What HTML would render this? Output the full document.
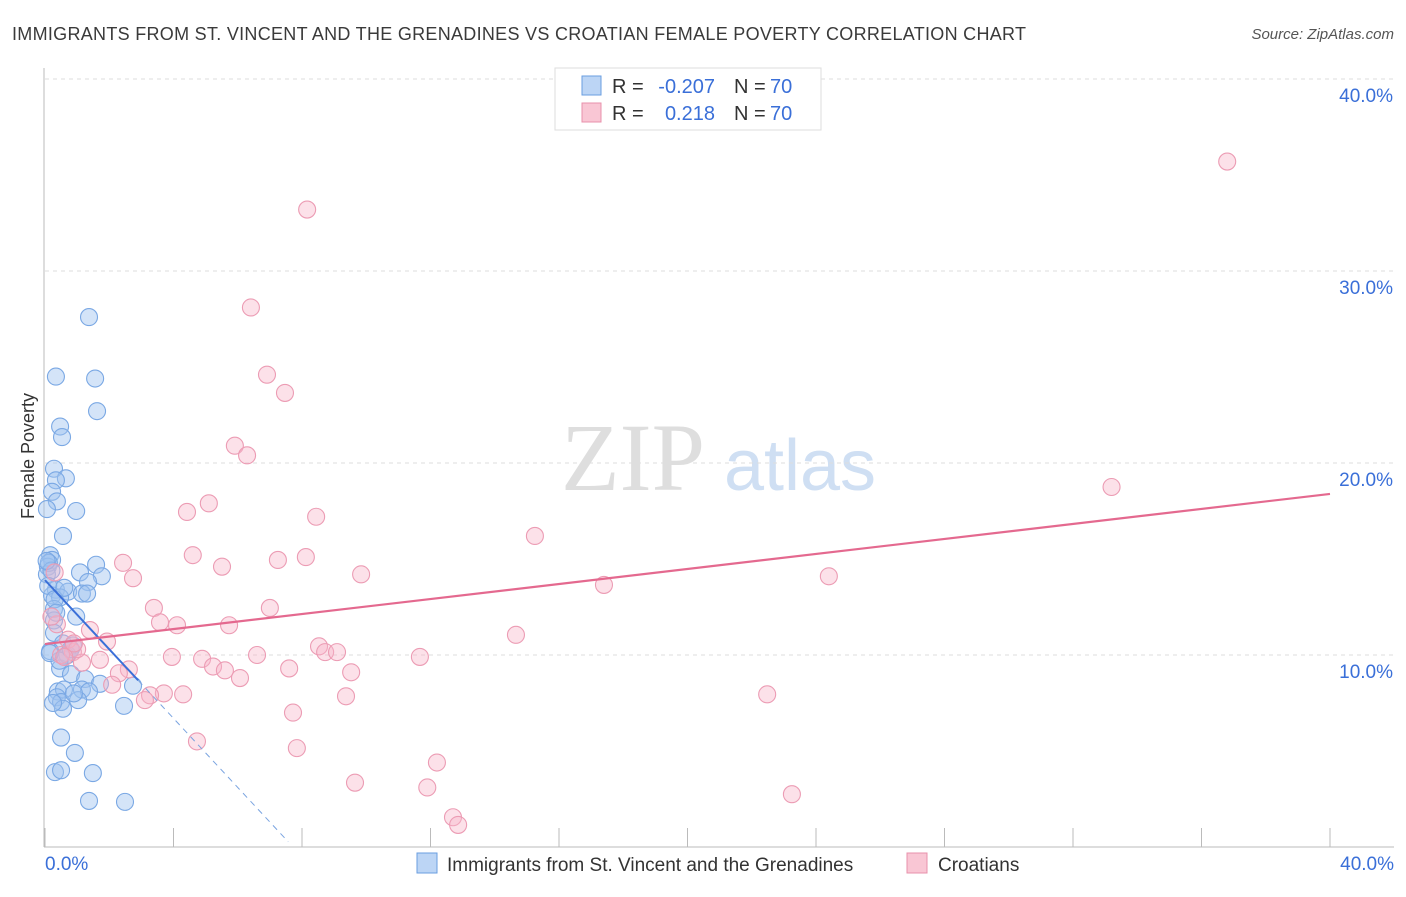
<!DOCTYPE html>
<html><head><meta charset="utf-8"><style>
body{margin:0;background:#fff;font-family:"Liberation Sans",sans-serif;}
</style></head><body>
<svg id="c" width="1406" height="892" viewBox="0 0 1406 892" xmlns="http://www.w3.org/2000/svg">
<text x="12" y="40" font-size="18" textLength="1014" fill="#3a3a3a">IMMIGRANTS FROM ST. VINCENT AND THE GRENADINES VS CROATIAN FEMALE POVERTY CORRELATION CHART</text>
<text x="1394" y="39" font-size="15" font-style="italic" fill="#555" text-anchor="end">Source: ZipAtlas.com</text>
<text x="0" y="0" transform="translate(34,456) rotate(-90)" font-size="18" fill="#333" text-anchor="middle">Female Poverty</text>
<g><text x="633" y="490" font-size="96" font-family="Liberation Serif,serif" fill="#dedede" text-anchor="middle">ZIP</text><text x="800" y="490" font-size="72" fill="#cfdff3" text-anchor="middle">atlas</text></g>
<g id="grid"></g><g id="pts"></g><g id="trend"></g>
<g>
<rect x="555" y="68" width="266" height="62" fill="#fff" stroke="#ddd"/>
<rect x="582" y="76" width="19" height="19" fill="#bcd5f5" stroke="#6a9ee0"/>
<rect x="582" y="103" width="19" height="19" fill="#f9c6d4" stroke="#e890ab"/>
<text x="612" y="93" font-size="20" fill="#333">R =</text>
<text x="715" y="93" font-size="20" fill="#3a6fd8" text-anchor="end">-0.207</text>
<text x="734" y="93" font-size="20" fill="#333">N =</text>
<text x="770" y="93" font-size="20" fill="#3a6fd8">70</text>
<text x="612" y="120" font-size="20" fill="#333">R =</text>
<text x="715" y="120" font-size="20" fill="#3a6fd8" text-anchor="end">0.218</text>
<text x="734" y="120" font-size="20" fill="#333">N =</text>
<text x="770" y="120" font-size="20" fill="#3a6fd8">70</text>
</g>
<g>
<rect x="417" y="853" width="20" height="20" fill="#bcd5f5" stroke="#6a9ee0"/>
<text x="447" y="871" font-size="19" fill="#333">Immigrants from St. Vincent and the Grenadines</text>
<rect x="907" y="853" width="20" height="20" fill="#f9c6d4" stroke="#e890ab"/>
<text x="938" y="871" font-size="19" fill="#333">Croatians</text>
</g>
</svg>
<script>
const yTicks=[10,20,30,40];
const yTickLabels=["10.0%","20.0%","30.0%","40.0%"];
const xTickLabels=["0.0%","40.0%"];
const blueX=[1.37,.34,1.56,1.62,.47,.53,.28,.65,.34,.22,.37,.06,.97,.56,.16,.22,.09,1.59,1.09,.06,1.77,1.34,.34,.72,1.15,1.31,.22,.47,.28,.97,.28,.28,.56,.87,.16,.65,.47,.81,1.25,1.71,.40,.59,1.15,1.37,.37,.5,1.03,.56,2.46,.5,.93,.31,.5,1.49,1.37,2.49,2.74,.12,.2,.1,.3,.7,.45,.9,.25,.15,.6,.05,.35,.8];
const blueY=[27.6,24.5,24.4,22.7,21.9,21.35,19.7,19.2,19.1,18.5,18.0,17.6,17.5,16.2,15.2,14.95,14.6,14.7,14.3,14.2,14.1,13.8,13.4,13.3,13.2,13.2,13.1,13.0,12.4,12.0,11.8,11.15,10.6,10.5,10.2,9.95,9.3,9.0,8.75,8.5,8.1,8.2,8.2,8.1,7.8,7.55,7.65,7.2,7.35,5.7,4.9,3.9,4.0,3.85,2.4,2.35,8.4,14.8,14.4,13.6,12.9,10.0,9.7,8.0,7.5,10.1,13.5,14.9,12.2,10.3];
const pinkX=[36.8,8.16,6.41,6.91,7.47,5.91,6.29,33.2,5.1,4.42,8.44,15.25,4.6,8.12,7.25,5.51,2.43,2.74,9.84,24.4,17.4,3.39,7.0,3.58,4.11,5.73,1.4,14.66,1.93,8.53,8.72,9.09,.87,11.67,6.6,3.95,4.89,1.71,1.15,5.23,5.6,7.6,9.53,2.61,2.3,6.07,2.09,3.7,4.3,3.27,3.11,9.37,22.48,7.72,4.73,7.84,12.2,9.65,11.9,23.25,12.7,12.86,.37,.72,.3,.5,1.0,.2,.9,.6];
const pinkY=[35.7,33.2,28.1,24.6,23.65,20.9,20.4,18.75,17.9,17.45,17.2,16.2,15.2,15.1,14.95,14.6,14.8,14.0,14.2,14.1,13.65,12.45,12.45,11.7,11.55,11.55,11.3,11.05,10.7,10.45,10.15,10.15,10.15,9.9,10.0,9.9,9.8,9.75,9.6,9.4,9.2,9.3,9.1,9.25,9.05,8.8,8.45,8.0,7.95,7.9,7.65,7.85,7.95,7.0,5.5,5.15,4.4,3.35,3.1,2.75,1.55,1.15,11.6,10.8,14.3,10.0,10.3,12.0,10.6,9.9];
const blueTrend=[13.9,-1.8], blueSolidEnd=2.9, blueDashEnd=7.57;
const pinkTrend=[10.57,0.1955];
const NS="http://www.w3.org/2000/svg";
const X=v=>45+v/40*1285, Y=v=>847-v*19.2;
function mk(p,t,a){const e=document.createElementNS(NS,t);for(const k in a)e.setAttribute(k,a[k]);p.appendChild(e);return e;}
const g=document.getElementById('grid'),P=document.getElementById('pts'),T=document.getElementById('trend');
let ax=mk(g,'line',{x1:44,y1:68,x2:44,y2:847,stroke:'#bbb'});


let bx=mk(g,'line',{x1:44,y1:847,x2:1394,y2:847,stroke:'#bbb'});


for(let i=0;i<=10;i++){let t=mk(g,'line',{x1:X(i*4),y1:828,x2:X(i*4),y2:847,stroke:'#bbb'});

}
yTicks.forEach((v,i)=>{let l=mk(g,'line',{x1:45,y1:Y(v),x2:1394,y2:Y(v),stroke:'#ddd','stroke-dasharray':'4,4'});


let t=mk(g,'text',{x:1393,y:Y(v)+23,'font-size':19,fill:'#3a6fd8','text-anchor':'end'});t.textContent=yTickLabels[i];

});
[[0,'start',45],[1,'end',1394]].forEach(([i,a,x])=>{let t=mk(g,'text',{x:x,y:870,'font-size':19,fill:'#3a6fd8','text-anchor':a});t.textContent=xTickLabels[i];

});
blueX.forEach((v,i)=>{let c=mk(P,'circle',{cx:X(v),cy:Y(blueY[i]),r:8.5,fill:'rgba(160,196,240,0.45)',stroke:'#7aa8e4','stroke-width':1.1});

});
pinkX.forEach((v,i)=>{let c=mk(P,'circle',{cx:X(v),cy:Y(pinkY[i]),r:8.5,fill:'rgba(248,180,200,0.4)',stroke:'#ec9cb4','stroke-width':1.1});

});
const bf=x=>blueTrend[0]+blueTrend[1]*x, pf=x=>pinkTrend[0]+pinkTrend[1]*x;
let l1=mk(T,'line',{x1:X(0),y1:Y(bf(0)),x2:X(blueSolidEnd),y2:Y(bf(blueSolidEnd)),stroke:'#3a6fd8','stroke-width':2});


let l2=mk(T,'line',{x1:X(blueSolidEnd),y1:Y(bf(blueSolidEnd)),x2:X(blueDashEnd),y2:Y(bf(blueDashEnd)),stroke:'#7aa4e0','stroke-width':1,'stroke-dasharray':'6,5'});


let l3=mk(T,'line',{x1:X(0),y1:Y(pf(0)),x2:X(40),y2:Y(pf(40)),stroke:'#e4698f','stroke-width':2.2});


</script>
</body></html>
